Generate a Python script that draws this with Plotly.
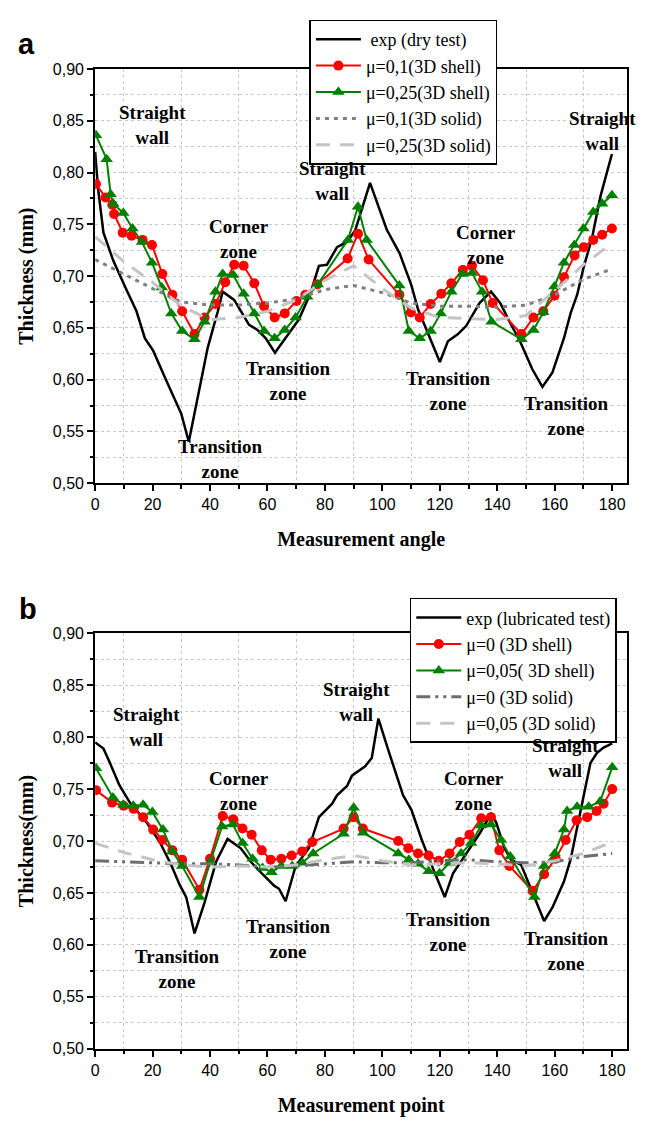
import plotly.graph_objects as go

# ---------------- Panel a data (dry test) ----------------
a_exp_x = [0, 1, 2.9, 6.3, 10.7, 14.4, 17.3, 20.2, 24.8, 30, 32.6, 35.7, 39.2, 42.7, 44.4, 48.4, 53.6, 56.5,
           59.4, 62.6, 66.3, 70.9, 74.9, 77.9, 80.7, 84.2, 87.7, 90.5, 95.7, 101.5, 106.0, 110.1, 112.4, 120,
           122.8, 126.3, 129.2, 133.8, 137.8, 141, 144.8, 147.6, 152.2, 155.7, 159.2, 163.2, 165.5, 167.8,
           170.1, 173, 175.9, 179.9]
a_exp_y = [0.820, 0.785, 0.742, 0.715, 0.688, 0.666, 0.640, 0.628, 0.599, 0.567, 0.540, 0.582, 0.631, 0.666,
           0.685, 0.677, 0.653, 0.648, 0.640, 0.626, 0.640, 0.658, 0.683, 0.710, 0.711, 0.728, 0.733, 0.744,
           0.790, 0.745, 0.722, 0.691, 0.668, 0.617, 0.637, 0.644, 0.652, 0.674, 0.685, 0.674, 0.653, 0.639,
           0.610, 0.593, 0.607, 0.640, 0.664, 0.682, 0.709, 0.737, 0.777, 0.818]

a_s01_x = [0.3, 3.6, 6.0, 6.6, 9.6, 12.7, 16.5, 19.8, 23.4, 26.9, 30.3, 34.6, 38.1, 41.9, 45.3, 48.4, 51.7,
           55.4, 58.8, 62.5, 66.0, 70.1, 73.2, 77.3, 87.9, 91.5, 95.2, 105.9, 109.9, 113.0, 116.8, 120.5,
           124.0, 128.0, 131.2, 135.0, 138.4, 148.4, 152.6, 156.0, 159.9, 163.2, 166.9, 170.1, 173.4, 176.5, 179.9]
a_s01_y = [0.789, 0.776, 0.769, 0.760, 0.742, 0.739, 0.735, 0.730, 0.702, 0.682, 0.666, 0.644, 0.660, 0.673,
           0.694, 0.711, 0.710, 0.693, 0.671, 0.660, 0.664, 0.676, 0.682, 0.692, 0.717, 0.741, 0.716, 0.682,
           0.665, 0.660, 0.673, 0.683, 0.693, 0.706, 0.710, 0.696, 0.674, 0.644, 0.660, 0.666, 0.681, 0.699,
           0.720, 0.728, 0.735, 0.740, 0.746]

a_s025_x = [0.3, 4.0, 5.4, 6.3, 9.8, 13.0, 16.3, 19.8, 23.2, 26.5, 30.3, 34.6, 38.1, 41.9, 44.4, 48.1, 51.7,
            55.4, 58.8, 62.5, 66.0, 69.8, 73.8, 77.5, 88.0, 91.5, 94.5, 105.9, 109.2, 113.0, 116.8, 120.3,
            124.0, 127.8, 131.2, 134.7, 138.0, 148.4, 152.6, 156.0, 159.9, 163.2, 166.8, 170.0, 173.4, 176.5, 179.9]
a_s025_y = [0.836, 0.813, 0.779, 0.770, 0.761, 0.746, 0.733, 0.713, 0.689, 0.664, 0.647, 0.639, 0.656, 0.685,
            0.702, 0.701, 0.683, 0.664, 0.647, 0.640, 0.648, 0.660, 0.680, 0.692, 0.735, 0.767, 0.735, 0.691,
            0.647, 0.640, 0.647, 0.664, 0.685, 0.702, 0.703, 0.685, 0.656, 0.639, 0.648, 0.665, 0.690, 0.713,
            0.730, 0.746, 0.762, 0.770, 0.778]

solid_x = [0, 10, 20, 30, 40, 50, 60, 70, 80, 90, 100, 110, 120, 130, 140, 150, 160, 170, 180]
a_solid01_y = [0.716, 0.702, 0.688, 0.675, 0.672, 0.672, 0.674, 0.678, 0.687, 0.691, 0.684, 0.674, 0.671,
               0.671, 0.670, 0.672, 0.682, 0.697, 0.707]
a_solid025_y = [0.738, 0.714, 0.694, 0.671, 0.658, 0.660, 0.666, 0.677, 0.696, 0.710, 0.688, 0.669, 0.660,
                0.659, 0.658, 0.662, 0.686, 0.711, 0.732]

# ---------------- Panel b data (lubricated test) ----------------
b_exp_x = [0, 2.9, 5.2, 8.4, 12.1, 17.9, 22.5, 26.5, 29.4, 31.7, 34.6, 38.1, 42.1, 46.1, 50.7, 54.2, 58.3,
           62.3, 64.0, 66.3, 69.8, 74.4, 77.9, 82.5, 84.2, 87.7, 89.4, 94.0, 96.3, 98.6, 102.0, 107.2, 110.1,
           113.6, 117.1, 121.7, 124.6, 128.6, 133.8, 137.8, 139.6, 142.5, 144.8, 148.3, 152.3, 156.3, 159.2,
           163.2, 165.5, 169.0, 172.4, 174.7, 177.0, 180.0]
b_exp_y = [0.795, 0.789, 0.775, 0.754, 0.737, 0.718, 0.699, 0.677, 0.658, 0.646, 0.611, 0.641, 0.680, 0.702,
           0.693, 0.680, 0.668, 0.657, 0.654, 0.642, 0.676, 0.693, 0.723, 0.736, 0.744, 0.753, 0.763, 0.772,
           0.780, 0.818, 0.788, 0.744, 0.730, 0.702, 0.677, 0.646, 0.669, 0.685, 0.707, 0.726, 0.718, 0.693,
           0.682, 0.677, 0.650, 0.623, 0.636, 0.661, 0.682, 0.729, 0.775, 0.785, 0.790, 0.794]

b_s0_x = [0.3, 5.9, 9.9, 13.4, 16.7, 20.2, 23.4, 26.9, 30.3, 36.3, 40.0, 44.4, 48.1, 51.3, 54.5, 58.0, 61.1,
          64.8, 68.4, 72.1, 75.6, 86.5, 90.0, 93.2, 105.5, 109.0, 112.4, 116.1, 119.6, 123.4, 126.9, 130.3,
          134.4, 137.8, 140.7, 144.2, 152.3, 156.3, 160.3, 163.8, 167.6, 171.3, 174.6, 177.0, 180.0]
b_s0_y = [0.749, 0.737, 0.734, 0.731, 0.723, 0.711, 0.701, 0.691, 0.682, 0.653, 0.683, 0.724, 0.721, 0.712,
          0.706, 0.691, 0.682, 0.683, 0.686, 0.690, 0.699, 0.712, 0.723, 0.712, 0.700, 0.693, 0.688, 0.686,
          0.681, 0.688, 0.699, 0.706, 0.722, 0.723, 0.691, 0.676, 0.652, 0.668, 0.683, 0.701, 0.720, 0.723,
          0.729, 0.736, 0.750]

b_s005_x = [0.3, 6.2, 9.8, 13.3, 16.7, 19.9, 23.6, 26.9, 30.3, 36.3, 40.1, 44.2, 47.9, 51.3, 54.8, 58.3, 61.4,
            64.8, 68.6, 72.1, 75.9, 86.5, 90.0, 93.3, 105.5, 109.2, 112.4, 116.1, 119.9, 123.4, 127.4, 130.9,
            134.4, 137.8, 141.3, 144.5, 152.9, 156.3, 160.0, 163.2, 164.3, 167.8, 171.8, 175.8, 180.0]
b_s005_y = [0.770, 0.742, 0.735, 0.734, 0.735, 0.728, 0.711, 0.690, 0.676, 0.646, 0.680, 0.714, 0.716, 0.698,
            0.683, 0.674, 0.670, 0.676, 0.676, 0.679, 0.688, 0.707, 0.732, 0.708, 0.688, 0.682, 0.678, 0.671,
            0.669, 0.679, 0.688, 0.698, 0.715, 0.716, 0.701, 0.685, 0.646, 0.676, 0.688, 0.711, 0.729, 0.733,
            0.733, 0.738, 0.771]

b_solid0_y = [0.681, 0.680, 0.679, 0.678, 0.678, 0.677, 0.675, 0.676, 0.678, 0.680, 0.679, 0.679, 0.681,
              0.682, 0.680, 0.679, 0.680, 0.685, 0.688]
b_solid005_y = [0.698, 0.689, 0.682, 0.677, 0.675, 0.676, 0.675, 0.677, 0.682, 0.686, 0.681, 0.677, 0.678,
                0.679, 0.678, 0.676, 0.681, 0.688, 0.699]

y_tickvals = [0.50, 0.55, 0.60, 0.65, 0.70, 0.75, 0.80, 0.85, 0.90]
y_ticktext = ["0,50", "0,55", "0,60", "0,65", "0,70", "0,75", "0,80", "0,85", "0,90"]

a_names = ["\u00a0exp (dry test)", "μ=0,1(3D shell)", "μ=0,25(3D shell)", "μ=0,1(3D solid)", "μ=0,25(3D solid)"]
b_names = ["exp (lubricated test)", "μ=0 (3D shell)", "μ=0,05( 3D shell)", "μ=0 (3D solid)", "μ=0,05 (3D solid)"]

a_notes = [("Straight<br>wall", 19.8, 0.846), ("Straight<br>wall", 82.5, 0.792), ("Straight<br>wall", 176.6, 0.840),
           ("Corner<br>zone", 50.2, 0.736), ("Corner<br>zone", 136.1, 0.730),
           ("Transition<br>zone", 43.5, 0.523), ("Transition<br>zone", 67.2, 0.599),
           ("Transition<br>zone", 123.1, 0.589), ("Transition<br>zone", 164.0, 0.565)]
b_notes = [("Straight<br>wall", 17.8, 0.810), ("Straight<br>wall", 91.1, 0.834), ("Straight<br>wall", 163.6, 0.780),
           ("Corner<br>zone", 50.2, 0.748), ("Corner<br>zone", 131.8, 0.748),
           ("Transition<br>zone", 28.5, 0.577), ("Transition<br>zone", 67.2, 0.606),
           ("Transition<br>zone", 123.1, 0.612), ("Transition<br>zone", 164.0, 0.594)]

W, H = 651, 1121
SERIF = "Liberation Serif, Times New Roman, serif"
SANS = "Liberation Sans, Arial, sans-serif"

fig = go.Figure()


def add_panel(xr, yr, leg, names, exp_x, exp_y, s1x, s1y, s2x, s2y, sol1, sol2, solid1_dash, solid1_color):
    fig.add_trace(go.Scatter(x=exp_x, y=exp_y, mode="lines", name=names[0], xaxis=xr, yaxis=yr, legend=leg,
                             line=dict(color="black", width=2.5)))
    fig.add_trace(go.Scatter(x=s1x, y=s1y, mode="lines+markers", name=names[1], xaxis=xr, yaxis=yr, legend=leg,
                             line=dict(color="#ff0000", width=2),
                             marker=dict(symbol="circle", size=10, color="#ff0000")))
    fig.add_trace(go.Scatter(x=s2x, y=s2y, mode="lines+markers", name=names[2], xaxis=xr, yaxis=yr, legend=leg,
                             line=dict(color="#008000", width=2),
                             marker=dict(symbol="triangle-up", size=11, color="#008000")))
    fig.add_trace(go.Scatter(x=solid_x, y=sol1, mode="lines", name=names[3], xaxis=xr, yaxis=yr, legend=leg,
                             line=dict(color=solid1_color, width=3, dash=solid1_dash)))
    fig.add_trace(go.Scatter(x=solid_x, y=sol2, mode="lines", name=names[4], xaxis=xr, yaxis=yr, legend=leg,
                             line=dict(color="#c4c4c4", width=3, dash="14px,10px")))


add_panel("x", "y", "legend", a_names, a_exp_x, a_exp_y, a_s01_x, a_s01_y, a_s025_x, a_s025_y,
          a_solid01_y, a_solid025_y, "4px,5px", "#808080")
add_panel("x2", "y2", "legend2", b_names, b_exp_x, b_exp_y, b_s0_x, b_s0_y, b_s005_x, b_s005_y,
          b_solid0_y, b_solid005_y, "14px,5px,3px,5px,3px,5px", "#6e6e6e")

x_dom = [91.7 / W, 627 / W]
ya_dom = [1 - 482.5 / H, 1 - 62 / H]
yb_dom = [1 - 1056.7 / H, 1 - 635 / H]


def xaxis_cfg(title, anchor):
    return dict(domain=x_dom, range=[0, 185.2], anchor=anchor, tickmode="linear", tick0=0, dtick=20,
                ticks="outside", ticklen=6, tickwidth=1.5, tickcolor="black",
                showline=True, linecolor="black", linewidth=2, mirror=True,
                showgrid=False, zeroline=False,
                tickfont=dict(family=SANS, size=16, color="black"),
                minor=dict(dtick=10, tick0=0, ticks="outside", ticklen=3.5, tickwidth=1.5, tickcolor="black",
                           showgrid=True, gridcolor="#c8c8c8", gridwidth=1, griddash="dot"),
                title=dict(text="<b>" + title + "</b>", font=dict(family=SERIF, size=20, color="black"),
                           standoff=20))


def yaxis_cfg(title, anchor, dom):
    return dict(domain=dom, range=[0.5, 0.9], anchor=anchor, tickmode="array",
                tickvals=y_tickvals, ticktext=y_ticktext,
                ticks="outside", ticklen=6, tickwidth=1.5, tickcolor="black",
                showline=True, linecolor="black", linewidth=2, mirror=True,
                showgrid=False, zeroline=False,
                tickfont=dict(family=SANS, size=16, color="black"),
                minor=dict(dtick=0.025, tick0=0.5, ticks="outside", ticklen=3.5, tickwidth=1.5, tickcolor="black",
                           showgrid=True, gridcolor="#c8c8c8", gridwidth=1, griddash="dot"),
                title=dict(text="<b>" + title + "</b>", font=dict(family=SERIF, size=20, color="black"),
                           standoff=14))


leg_common = dict(bgcolor="white", bordercolor="black", borderwidth=1.5, xanchor="left", yanchor="top",
                  font=dict(family=SERIF, size=18, color="black"), tracegroupgap=0, itemwidth=45,
                  traceorder="normal")

annotations = []
for txt, xv, yv in a_notes:
    annotations.append(dict(text="<b>" + txt + "</b>", x=xv, y=yv, xref="x", yref="y", showarrow=False,
                            font=dict(family=SERIF, size=19, color="black")))
for txt, xv, yv in b_notes:
    annotations.append(dict(text="<b>" + txt + "</b>", x=xv, y=yv, xref="x2", yref="y2", showarrow=False,
                            font=dict(family=SERIF, size=19, color="black")))
annotations.append(dict(text="<b>a</b>", x=22.5 / W, y=1 - 36.7 / H, xref="paper", yref="paper",
                        xanchor="center", yanchor="middle",
                        showarrow=False, font=dict(family=SANS, size=29, color="black")))
annotations.append(dict(text="<b>b</b>", x=23.7 / W, y=1 - 610.5 / H, xref="paper", yref="paper",
                        xanchor="center", yanchor="middle",
                        showarrow=False, font=dict(family=SANS, size=29, color="black")))

fig.update_layout(
    width=W, height=H, margin=dict(l=0, r=0, t=0, b=0),
    paper_bgcolor="white", plot_bgcolor="white", showlegend=True,
    xaxis=xaxis_cfg("Measurement angle", "y"),
    yaxis=yaxis_cfg("Thickness (mm)", "x", ya_dom),
    xaxis2=xaxis_cfg("Measurement point", "y2"),
    yaxis2=yaxis_cfg("Thickness(mm)", "x2", yb_dom),
    legend=dict(x=307.3 / W, y=1 - 11.7 / H, **leg_common),
    legend2=dict(x=408.3 / W, y=1 - 599 / H, **leg_common),
    annotations=annotations,
)

# remove the default page margin so the figure sits exactly in the 651x1121 window
fig.write_html("out.html",
               post_script="document.body.style.margin='0';document.body.style.padding='0';"
                           "document.documentElement.style.overflow='hidden';")
